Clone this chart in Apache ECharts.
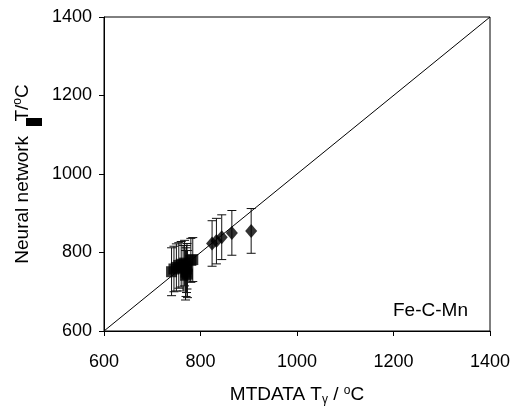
<!DOCTYPE html>
<html><head><meta charset="utf-8">
<script src="https://cdn.jsdelivr.net/npm/echarts@6/dist/echarts.min.js"></script>
<style>html,body{margin:0;padding:0;background:#fff}#c{width:521px;height:411px}</style>
</head><body><div id="c"></div>
<script>
// Fe-C-Mn: squares
const squareX   = [740, 745, 750, 755, 760, 764, 767, 769, 770, 771, 772, 773, 780, 784];
const squareY   = [751, 758, 762, 767, 770, 760, 773, 742, 750, 758, 765, 745, 780, 782];
const squareErr = [61, 58, 60, 58, 58, 58, 58, 63, 62, 60, 58, 60, 56, 56];
// diamonds
const diamondX   = [824, 833, 844, 865, 905];
const diamondY   = [823, 829, 839, 850, 855];
const diamondErr = [58, 58, 57, 57, 57];
const xTicks = [600, 800, 1000, 1200, 1400];
const yTicks = [600, 800, 1000, 1200, 1400];
const diagonal = [[600, 600], [1400, 1400]];

const FONT = 'Liberation Sans, Arial, sans-serif';
const chart = echarts.init(document.getElementById('c'));

function errData(xs, ys, es) { return xs.map((x, i) => [x, ys[i] - es[i], ys[i] + es[i]]); }
function errRender(params, api) {
  const lo = api.coord([api.value(0), api.value(1)]);
  const hi = api.coord([api.value(0), api.value(2)]);
  const w = 4.5;
  const st = { stroke: '#111', lineWidth: 1 };
  return { type: 'group', children: [
    { type: 'line', shape: { x1: lo[0], y1: lo[1], x2: hi[0], y2: hi[1] }, style: st },
    { type: 'line', shape: { x1: lo[0] - w, y1: lo[1], x2: lo[0] + w, y2: lo[1] }, style: st },
    { type: 'line', shape: { x1: hi[0] - w, y1: hi[1], x2: hi[0] + w, y2: hi[1] }, style: st }
  ]};
}

chart.setOption({
  animation: false,
  backgroundColor: '#fff',
  grid: { left: 104, right: 31, top: 17, bottom: 79, show: true, borderColor: '#000', borderWidth: 1 },
  xAxis: {
    type: 'value', min: xTicks[0], max: xTicks[xTicks.length - 1], interval: 200,
    axisLine: { lineStyle: { color: '#000' } },
    axisTick: { show: true, length: 5, inside: false, lineStyle: { color: '#000' } },
    splitLine: { show: false },
    axisLabel: { color: '#000', fontSize: 18, fontFamily: FONT, margin: 22, formatter: v => String(v) },
    name: '{a|MTDATA T}{s|γ}{a| / }{p|o}{a|C}',
    nameLocation: 'middle', nameGap: 53,
    nameTextStyle: { rich: {
      a: { fontSize: 19, fontFamily: FONT, color: '#000' },
      s: { fontSize: 12, fontFamily: FONT, color: '#000', padding: [10, 0, 0, 0] },
      p: { fontSize: 12, fontFamily: FONT, color: '#000', padding: [0, 0, 9, 0] }
    } }
  },
  yAxis: {
    type: 'value', min: yTicks[0], max: yTicks[yTicks.length - 1], interval: 200,
    axisLine: { show: true, lineStyle: { color: '#000' } },
    axisTick: { show: true, length: 5, inside: false, lineStyle: { color: '#000' } },
    splitLine: { show: false },
    axisLabel: { color: '#000', fontSize: 18, fontFamily: FONT, margin: 12, formatter: v => String(v) },
    name: '{a|Neural network }{g|}{a|T/}{p|o}{a|C}',
    nameLocation: 'middle', nameGap: 71, nameRotate: 90,
    nameTextStyle: { rich: {
      a: { fontSize: 19, fontFamily: FONT, color: '#000' },
      g: { width: 9 },
      p: { fontSize: 12, fontFamily: FONT, color: '#000', padding: [0, 0, 9, 0] }
    } }
  },
  graphic: [
    { type: 'rect', shape: { x: 26, y: 118, width: 16, height: 8 }, style: { fill: '#000' } },
    { type: 'text', left: 393, top: 301, style: { text: 'Fe-C-Mn', fontSize: 19, fontFamily: FONT, fill: '#000' } }
  ],
  series: [
    { type: 'line', data: diagonal, symbol: 'none', lineStyle: { color: '#000', width: 1 }, silent: true },
    { type: 'custom', renderItem: errRender, data: errData(squareX, squareY, squareErr), z: 3 },
    { type: 'custom', renderItem: errRender, data: errData(diamondX, diamondY, diamondErr), z: 3 },
    { type: 'scatter', data: squareX.map((x, i) => [x, squareY[i]]), symbol: 'rect', symbolSize: 11,
      itemStyle: { color: '#000' }, z: 4 },
    { type: 'scatter', data: diamondX.map((x, i) => [x, diamondY[i]]), symbol: 'diamond', symbolSize: [12, 14],
      itemStyle: { color: '#000' }, z: 4 }
  ]
});
</script></body></html>
